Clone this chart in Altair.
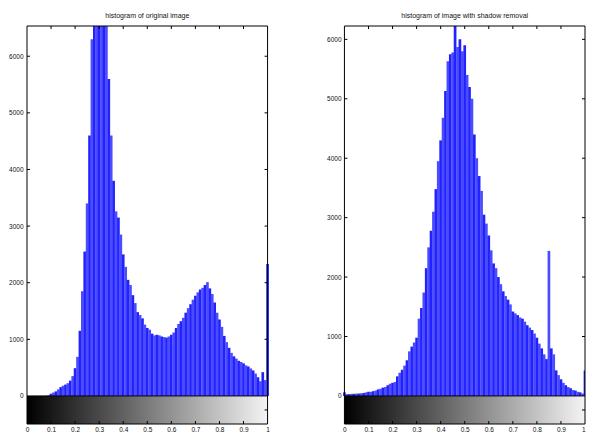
import altair as alt
import pandas as pd

# ---- data (counts per 0.01-wide intensity bin) ----
bin_centers = [i / 100 for i in range(101)]

orig_counts = [
    0, 0, 0, 0, 0, 0, 0, 0, 0, 10,            # 0.00-0.09
    40, 60, 80, 115, 155, 180, 200, 225, 270, 350,   # 0.10-0.19
    490, 690, 1150, 1850, 2550, 3400, 4600, 6300, 7200, 7800,  # 0.20-0.29
    8000, 7900, 7300, 6700, 5600, 4600, 3800, 3260, 3150, 2850,  # 0.30-0.39
    2500, 2280, 2050, 1960, 1780, 1640, 1480, 1430, 1370, 1260,  # 0.40-0.49
    1200, 1170, 1100, 1070, 1080, 1070, 1050, 1040, 1030, 1050,  # 0.50-0.59
    1080, 1120, 1200, 1270, 1320, 1380, 1470, 1550, 1620, 1700,  # 0.60-0.69
    1770, 1830, 1880, 1910, 1960, 2010, 1900, 1800, 1650, 1470,  # 0.70-0.79
    1350, 1220, 1060, 950, 850, 760, 700, 660, 620, 600,         # 0.80-0.89
    575, 540, 520, 485, 450, 395, 330, 260, 420, 280,            # 0.90-0.99
    2330,                                                        # 1.00
]

shadow_counts = [
    60, 30, 30, 35, 35, 40, 40, 45, 50, 60,          # 0.00-0.09
    70, 70, 80, 90, 110, 120, 140, 150, 180, 205,     # 0.10-0.19
    220, 235, 330, 390, 440, 510, 600, 750, 830, 900,  # 0.20-0.29
    980, 1300, 1480, 1740, 2150, 2500, 2780, 3100, 3480, 3950,  # 0.30-0.39
    4300, 4680, 5130, 5630, 5750, 5780, 6300, 5870, 6000, 5800,  # 0.40-0.49
    5900, 5400, 5200, 5000, 4400, 4000, 3700, 3450, 3050, 2900,  # 0.50-0.59
    2700, 2450, 2230, 2150, 2000, 1880, 1760, 1680, 1620, 1540,  # 0.60-0.69
    1420, 1390, 1360, 1320, 1300, 1250, 1190, 1150, 1110, 1050,  # 0.70-0.79
    980, 880, 800, 700, 620, 2440, 800, 700, 430, 350,           # 0.80-0.89
    280, 220, 180, 150, 130, 100, 90, 70, 60, 40,                # 0.90-0.99
    430,                                                         # 1.00
]

x_tick_values = [0, 0.1, 0.2, 0.3, 0.4, 0.5, 0.6, 0.7, 0.8, 0.9, 1]
inner_x_ticks = [0.1, 0.2, 0.3, 0.4, 0.5, 0.6, 0.7, 0.8, 0.9]
y_tick_values = [0, 1000, 2000, 3000, 4000, 5000, 6000]
inner_y_ticks = [1000, 2000, 3000, 4000, 5000, 6000]
titles = ["histogram of original image", "histogram of image with shadow removal"]
y_max = [6534, 6225]
bar_colors = ["#2222ff", "#4c4cff"]

FONT = "Liberation Sans, Arial, sans-serif"
TOTAL_W, TOTAL_H = 578, 425          # whole chart (fits inside the 594x441 window)
PANEL_W = 241                        # each histogram panel, px
RIGHT_START = 318                    # px from plot-area left to right panel
VIEW_W = RIGHT_START + PANEL_W       # expected plot area width
VIEW_H = 397                         # expected plot area height
CB_PX = 28                           # colour-bar height, px
TICK = 3


def panel(counts, title, ymax, x_domain, y_axis_offset, flush_last):
    units = ymax / (VIEW_H - CB_PX)
    ymin = -CB_PX * units
    xs = alt.Scale(domain=x_domain, nice=False, zero=False)
    ys = alt.Scale(domain=[ymin, ymax], nice=False, zero=False)
    xa = alt.Axis(values=x_tick_values, format="~g", ticks=False, domain=False,
                  grid=False, labelPadding=2, labelFontSize=6.5, labelFont=FONT,
                  labelFlush=flush_last, labelOverlap=False, title=None,
                  labelColor="#111111", orient="bottom")
    ya = alt.Axis(values=y_tick_values, format="d", ticks=False, domain=False,
                  grid=False, labelPadding=4, labelFontSize=6.5, labelFont=FONT,
                  labelOverlap=False, title=None, labelColor="#111111",
                  orient="left", offset=y_axis_offset)

    def X(f):
        return alt.X(f, scale=xs, axis=xa)

    def Y(f):
        return alt.Y(f, scale=ys, axis=ya)

    df = pd.DataFrame({
        "lo": [c - 0.0056 for c in bin_centers],
        "hi": [c + 0.0056 for c in bin_centers],
        "count": counts,
        "base": [0] * len(counts),
        "shade": ["a" if i % 2 == 0 else "b" for i in range(len(counts))],
    })
    box = pd.DataFrame({"a": [0.0], "b": [1.0], "c": [0.5], "zero": [0.0],
                        "bot": [ymin], "mid": [ymin / 2], "txt": [title]})

    bars = alt.Chart(df).mark_bar(clip=True, strokeWidth=0).encode(
        x=X("lo:Q"), x2="hi", y=Y("count:Q"), y2="base",
        color=alt.Color("shade:N", scale=alt.Scale(domain=["a", "b"], range=bar_colors),
                        legend=None),
    )
    cbar = alt.Chart(box).mark_rect(
        color={"gradient": "linear", "x1": 0, "x2": 1, "y1": 0, "y2": 0,
               "stops": [{"offset": 0, "color": "#000000"},
                         {"offset": 1, "color": "#f4f4f4"}]}
    ).encode(x=X("a:Q"), x2="b", y=Y("zero:Q"), y2="bot")
    frame = alt.Chart(box).mark_rect(filled=False, stroke="black", strokeWidth=1).encode(
        x=X("a:Q"), x2="b", y=alt.value(0), y2=alt.value("height"))
    sep = alt.Chart(box).mark_rule(color="black", strokeWidth=1).encode(
        x=X("a:Q"), x2="b", y=Y("zero:Q"))

    xt = pd.DataFrame({"t": inner_x_ticks})
    top_ticks = alt.Chart(xt).mark_rule(color="black").encode(
        x=X("t:Q"), y=alt.value(0), y2=alt.value(TICK))
    cb_ticks = alt.Chart(xt).mark_rule(color="black").encode(
        x=X("t:Q"), y=alt.value("height"), y2=alt.value({"expr": f"height - {TICK}"}))

    yt = pd.DataFrame({"v": inner_y_ticks, "a": [0.0] * 6, "b": [1.0] * 6})
    left_ticks = alt.Chart(yt).mark_rule(color="black", x2Offset=TICK).encode(
        y=Y("v:Q"), x=X("a:Q"), x2="a")
    right_ticks = alt.Chart(yt).mark_rule(color="black", x2Offset=-TICK).encode(
        y=Y("v:Q"), x=X("b:Q"), x2="b")
    cb_right = alt.Chart(box).mark_rule(color="black", x2Offset=-TICK).encode(
        y=Y("mid:Q"), x=X("b:Q"), x2="b")

    ttl = alt.Chart(box).mark_text(fontSize=7, font=FONT, baseline="bottom",
                                   align="center", color="#111111").encode(
        x=X("c:Q"), y=alt.value(-7), text="txt:N")

    return alt.layer(bars, cbar, sep, frame, top_ticks, cb_ticks,
                     left_ticks, right_ticks, cb_right, ttl)


left = panel(orig_counts, titles[0], y_max[0],
             [0, VIEW_W / PANEL_W], 0, False)
right = panel(shadow_counts, titles[1], y_max[1],
              [-RIGHT_START / PANEL_W, (VIEW_W - RIGHT_START) / PANEL_W],
              -RIGHT_START, True)

chart = alt.layer(left, right).resolve_scale(
    x="independent", y="independent", color="independent"
).resolve_axis(x="independent", y="independent").properties(
    width=TOTAL_W, height=TOTAL_H,
    autosize=alt.AutoSizeParams(type="fit", contains="padding"),
    padding={"left": 0, "top": 4, "right": 0, "bottom": 0},
).configure_view(stroke=None)

chart.save("out.html", embed_options={"renderer": "svg", "actions": False})
